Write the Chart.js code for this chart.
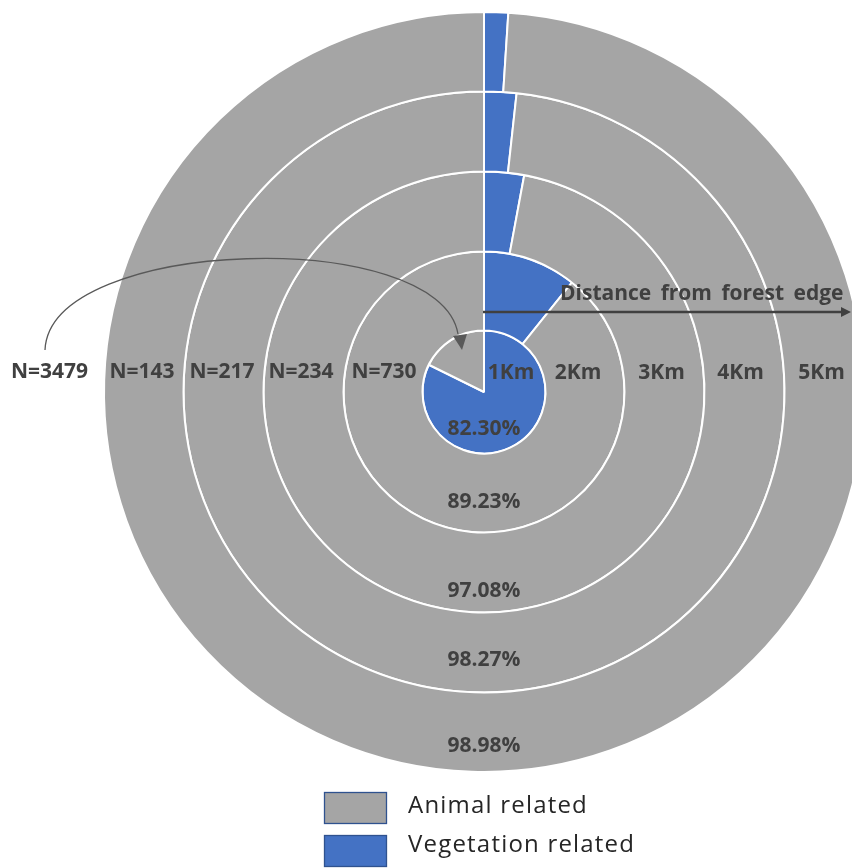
<!DOCTYPE html>
<html>
<head>
<meta charset="utf-8">
<script src="https://cdn.jsdelivr.net/npm/chart.js@4.4.1/dist/chart.umd.min.js"></script>
<style>
  html, body { margin: 0; padding: 0; background: #ffffff; overflow: hidden; width: 852px; height: 868px; }
  #wrap { position: absolute; left: 0; top: 0; width: 968px; height: 868px; }
</style>
</head>
<body>
<div id="wrap"><canvas id="c" width="968" height="868" style="width:968px;height:868px"></canvas></div>
<script>
// ---- data (inner ring = 1Km, outer ring = 5Km) ----
const distances      = ['1Km', '2Km', '3Km', '4Km', '5Km'];
const sampleSizes    = [3479, 730, 234, 217, 143];
const vegetationPct  = [82.30, 10.77, 2.92, 1.73, 1.02];
const animalPct      = [17.70, 89.23, 97.08, 98.27, 98.98];
const shownPct       = ['82.30%', '89.23%', '97.08%', '98.27%', '98.98%'];
const categories     = ['Vegetation related', 'Animal related'];
const legendOrder    = ['Animal related', 'Vegetation related'];
const axisTitle      = 'Distance from forest edge';

// ---- styles ----
const BLUE = '#4472C4', GREY = '#A5A5A5', TXT = '#404040';
const ringWeights = [61.5, 79, 80, 80, 79.5]; // inner -> outer ring thickness

// Chart.js draws dataset 0 as outermost ring, so reverse
const order = [4, 3, 2, 1, 0];
const datasets = order.map(i => ({
  label: distances[i],
  data: [vegetationPct[i], animalPct[i]],
  backgroundColor: [BLUE, GREY],
  borderColor: '#ffffff',
  borderWidth: 2,
  weight: ringWeights[i]
}));

const annot = {
  id: 'annot',
  afterDraw(chart) {
    const ctx = chart.ctx;
    const arc = chart.getDatasetMeta(0).data[0];
    const cx = arc.x, cy = arc.y;
    ctx.save();
    ctx.fillStyle = TXT;
    ctx.textAlign = 'center';
    ctx.textBaseline = 'middle';
    ctx.font = 'bold 21px "Open Sans"';
    // offsets measured per ring (inner -> outer)
    const pctY = [37, 110, 199, 268, 354];
    const kmX  = [27, 94, 177.5, 256.5, 337.5];
    const nX   = [434.5, 100, 183, 262, 342];
    for (let i = 0; i < distances.length; i++) {
      ctx.fillText(shownPct[i], cx, cy + pctY[i]);
      ctx.fillText(distances[i], cx + kmX[i], cy - 19);
      ctx.fillText('N=' + sampleSizes[i], cx - nX[i], cy - 20);
    }
    // axis arrow
    ctx.strokeStyle = TXT;
    ctx.lineWidth = 2.4;
    ctx.beginPath();
    ctx.moveTo(cx - 1, cy - 80);
    ctx.lineTo(cx + 360, cy - 80);
    ctx.stroke();
    ctx.beginPath();
    ctx.moveTo(cx + 367, cy - 80);
    ctx.lineTo(cx + 357, cy - 85);
    ctx.lineTo(cx + 357, cy - 75);
    ctx.closePath();
    ctx.fill();
    ctx.textAlign = 'left';
    ctx.textBaseline = 'alphabetic';
    ctx.font = 'bold 21px "Open Sans"';
    try { ctx.wordSpacing = '4px'; } catch (e) {}
    ctx.fillText(axisTitle, cx + 76, cy - 92);
    try { ctx.wordSpacing = '0px'; } catch (e) {}
    // curved arrow from N total to inner pie
    ctx.strokeStyle = '#595959';
    ctx.fillStyle = '#595959';
    ctx.lineWidth = 1.3;
    ctx.beginPath();
    ctx.moveTo(cx - 439, cy - 42);
    ctx.bezierCurveTo(cx - 434, cy - 156, cx - 44, cy - 166, cx - 26, cy - 58);
    ctx.stroke();
    ctx.beginPath();
    ctx.moveTo(cx - 22, cy - 42);
    ctx.lineTo(cx - 31, cy - 56);
    ctx.lineTo(cx - 17, cy - 58);
    ctx.closePath();
    ctx.fill();
    // legend
    const boxes = [GREY, BLUE];
    for (let k = 0; k < legendOrder.length; k++) {
      const y0 = 792 + k * 43;
      ctx.fillStyle = boxes[k];
      ctx.fillRect(324, y0, 63, 32);
      ctx.strokeStyle = '#2F528F';
      ctx.lineWidth = 1.3;
      ctx.strokeRect(324.5, y0 + 0.5, 62, 31);
      ctx.fillStyle = '#262626';
      ctx.font = '24px "Open Sans"';
      try { ctx.letterSpacing = '1.2px'; } catch (e) {}
      ctx.fillText(legendOrder[k], 408, 813 + k * 39);
      try { ctx.letterSpacing = '0px'; } catch (e) {}
    }
    ctx.restore();
  }
};

new Chart(document.getElementById('c'), {
  type: 'doughnut',
  data: { labels: categories, datasets },
  options: {
    responsive: false,
    animation: false,
    cutout: 0,
    layout: { padding: { top: 11, bottom: 95, left: 11, right: 11 } },
    plugins: { legend: { display: false }, tooltip: { enabled: false } }
  },
  plugins: [annot]
});
</script>
</body>
</html>
